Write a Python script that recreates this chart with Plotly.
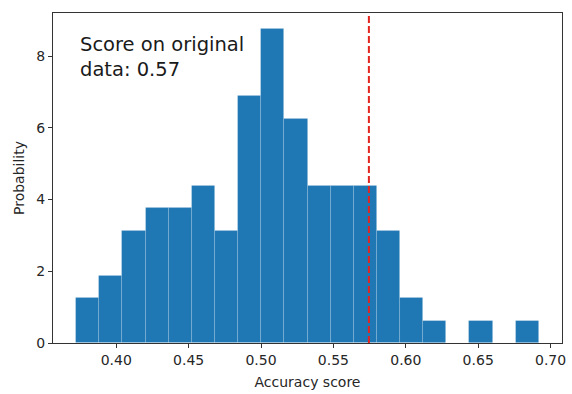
import plotly.graph_objects as go

# Histogram data (density, 100 samples, 20 bins)
bin_start = 0.3723
bin_width = 0.01598
counts = [2, 3, 5, 6, 6, 7, 5, 11, 14, 10, 7, 7, 7, 5, 2, 1, 0, 1, 0, 1]
original_score = 0.5745
x_ticks = [0.40, 0.45, 0.50, 0.55, 0.60, 0.65, 0.70]
y_ticks = [0, 2, 4, 6, 8]

n_total = sum(counts)
centers = [bin_start + bin_width * (i + 0.5) for i in range(len(counts))]
density = [c / (n_total * bin_width) for c in counts]

span = bin_width * len(counts)
x_range = [bin_start - 0.05 * span, bin_start + 1.05 * span]
y_range = [0, max(density) * 1.05]

fig = go.Figure()
fig.add_trace(go.Bar(
    x=centers, y=density, width=[bin_width] * len(counts),
    marker=dict(color="#1f77b4", line=dict(color="rgba(255,255,255,0.18)", width=0.8)),
    showlegend=False, hoverinfo="skip",
))
fig.add_shape(type="line", xref="x", yref="paper", x0=original_score, x1=original_score,
              y0=0, y1=1, line=dict(color="#e3241f", width=2, dash="7px,3px"))
fig.add_annotation(
    text=f"Score on original<br>data: {original_score:.2f}",
    xref="paper", yref="paper", x=0.05, y=0.945, xanchor="left", yanchor="top",
    showarrow=False, align="left",
    font=dict(family="DejaVu Sans", size=19.5, color="#1a1a1a"),
)

axis_common = dict(
    showline=True, linecolor="#333333", linewidth=1, mirror=True,
    ticks="outside", ticklen=4, tickwidth=1, tickcolor="#333333",
    showgrid=False, zeroline=False, automargin=False,
    tickfont=dict(family="DejaVu Sans", size=14, color="#262626"),
)
fig.update_xaxes(range=x_range, tickvals=x_ticks, tickformat=".2f",
                 title=dict(text="Accuracy score", font=dict(family="DejaVu Sans", size=14, color="#262626"), standoff=10),
                 **axis_common)
fig.update_yaxes(range=y_range, tickvals=y_ticks,
                 title=dict(text="Probability", font=dict(family="DejaVu Sans", size=14, color="#262626"), standoff=8),
                 **axis_common)
fig.update_layout(
    width=572, height=394,
    margin=dict(l=53, r=10, t=13, b=51),
    plot_bgcolor="white", paper_bgcolor="white",
    bargap=0,
    font=dict(family="DejaVu Sans"),
)
fig.write_html("out.html", config={"displayModeBar": False},
               post_script="document.body.style.margin='0';")
